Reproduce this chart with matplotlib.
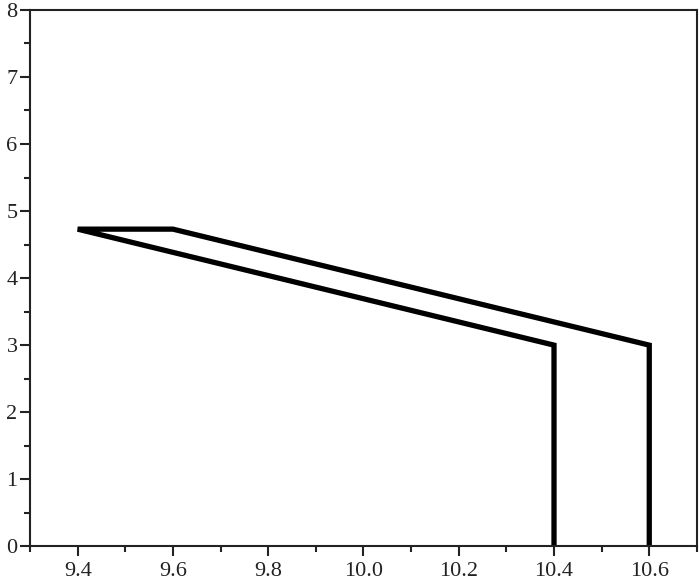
import matplotlib.pyplot as plt
from matplotlib.ticker import MultipleLocator

plt.rcParams['font.family'] = ['Liberation Serif', 'DejaVu Serif']

# outline path of the shape
x_vals = [10.4, 10.4, 9.4, 9.6, 10.6, 10.6]
y_vals = [0.0, 3.0, 4.73, 4.73, 3.0, 0.0]

x_ticks = [9.4, 9.6, 9.8, 10.0, 10.2, 10.4, 10.6]
y_ticks = [0, 1, 2, 3, 4, 5, 6, 7, 8]

fig = plt.figure(figsize=(6.99, 5.83), dpi=100)
ax = fig.add_axes([0.043, 0.063, 0.954, 0.92])

ax.plot(x_vals, y_vals, color='black', linewidth=3.8, solid_joinstyle='miter')

ax.set_xlim(9.3, 10.7)
ax.set_ylim(0, 8)
ax.set_xticks(x_ticks)
ax.set_xticklabels(['%.1f' % v for v in x_ticks])
ax.set_yticks(y_ticks)
ax.xaxis.set_minor_locator(MultipleLocator(0.1))
ax.yaxis.set_minor_locator(MultipleLocator(0.5))

for s in ax.spines.values():
    s.set_linewidth(1.5)
    s.set_color('#222222')

ax.tick_params(which='major', direction='out', length=7, width=1.5, labelsize=16, colors='#222222')
ax.tick_params(which='minor', direction='out', length=4, width=1.5, colors='#222222')
ax.tick_params(axis='y', pad=2)
ax.tick_params(axis='x', pad=4)

fig.savefig('out.png', dpi=100)
